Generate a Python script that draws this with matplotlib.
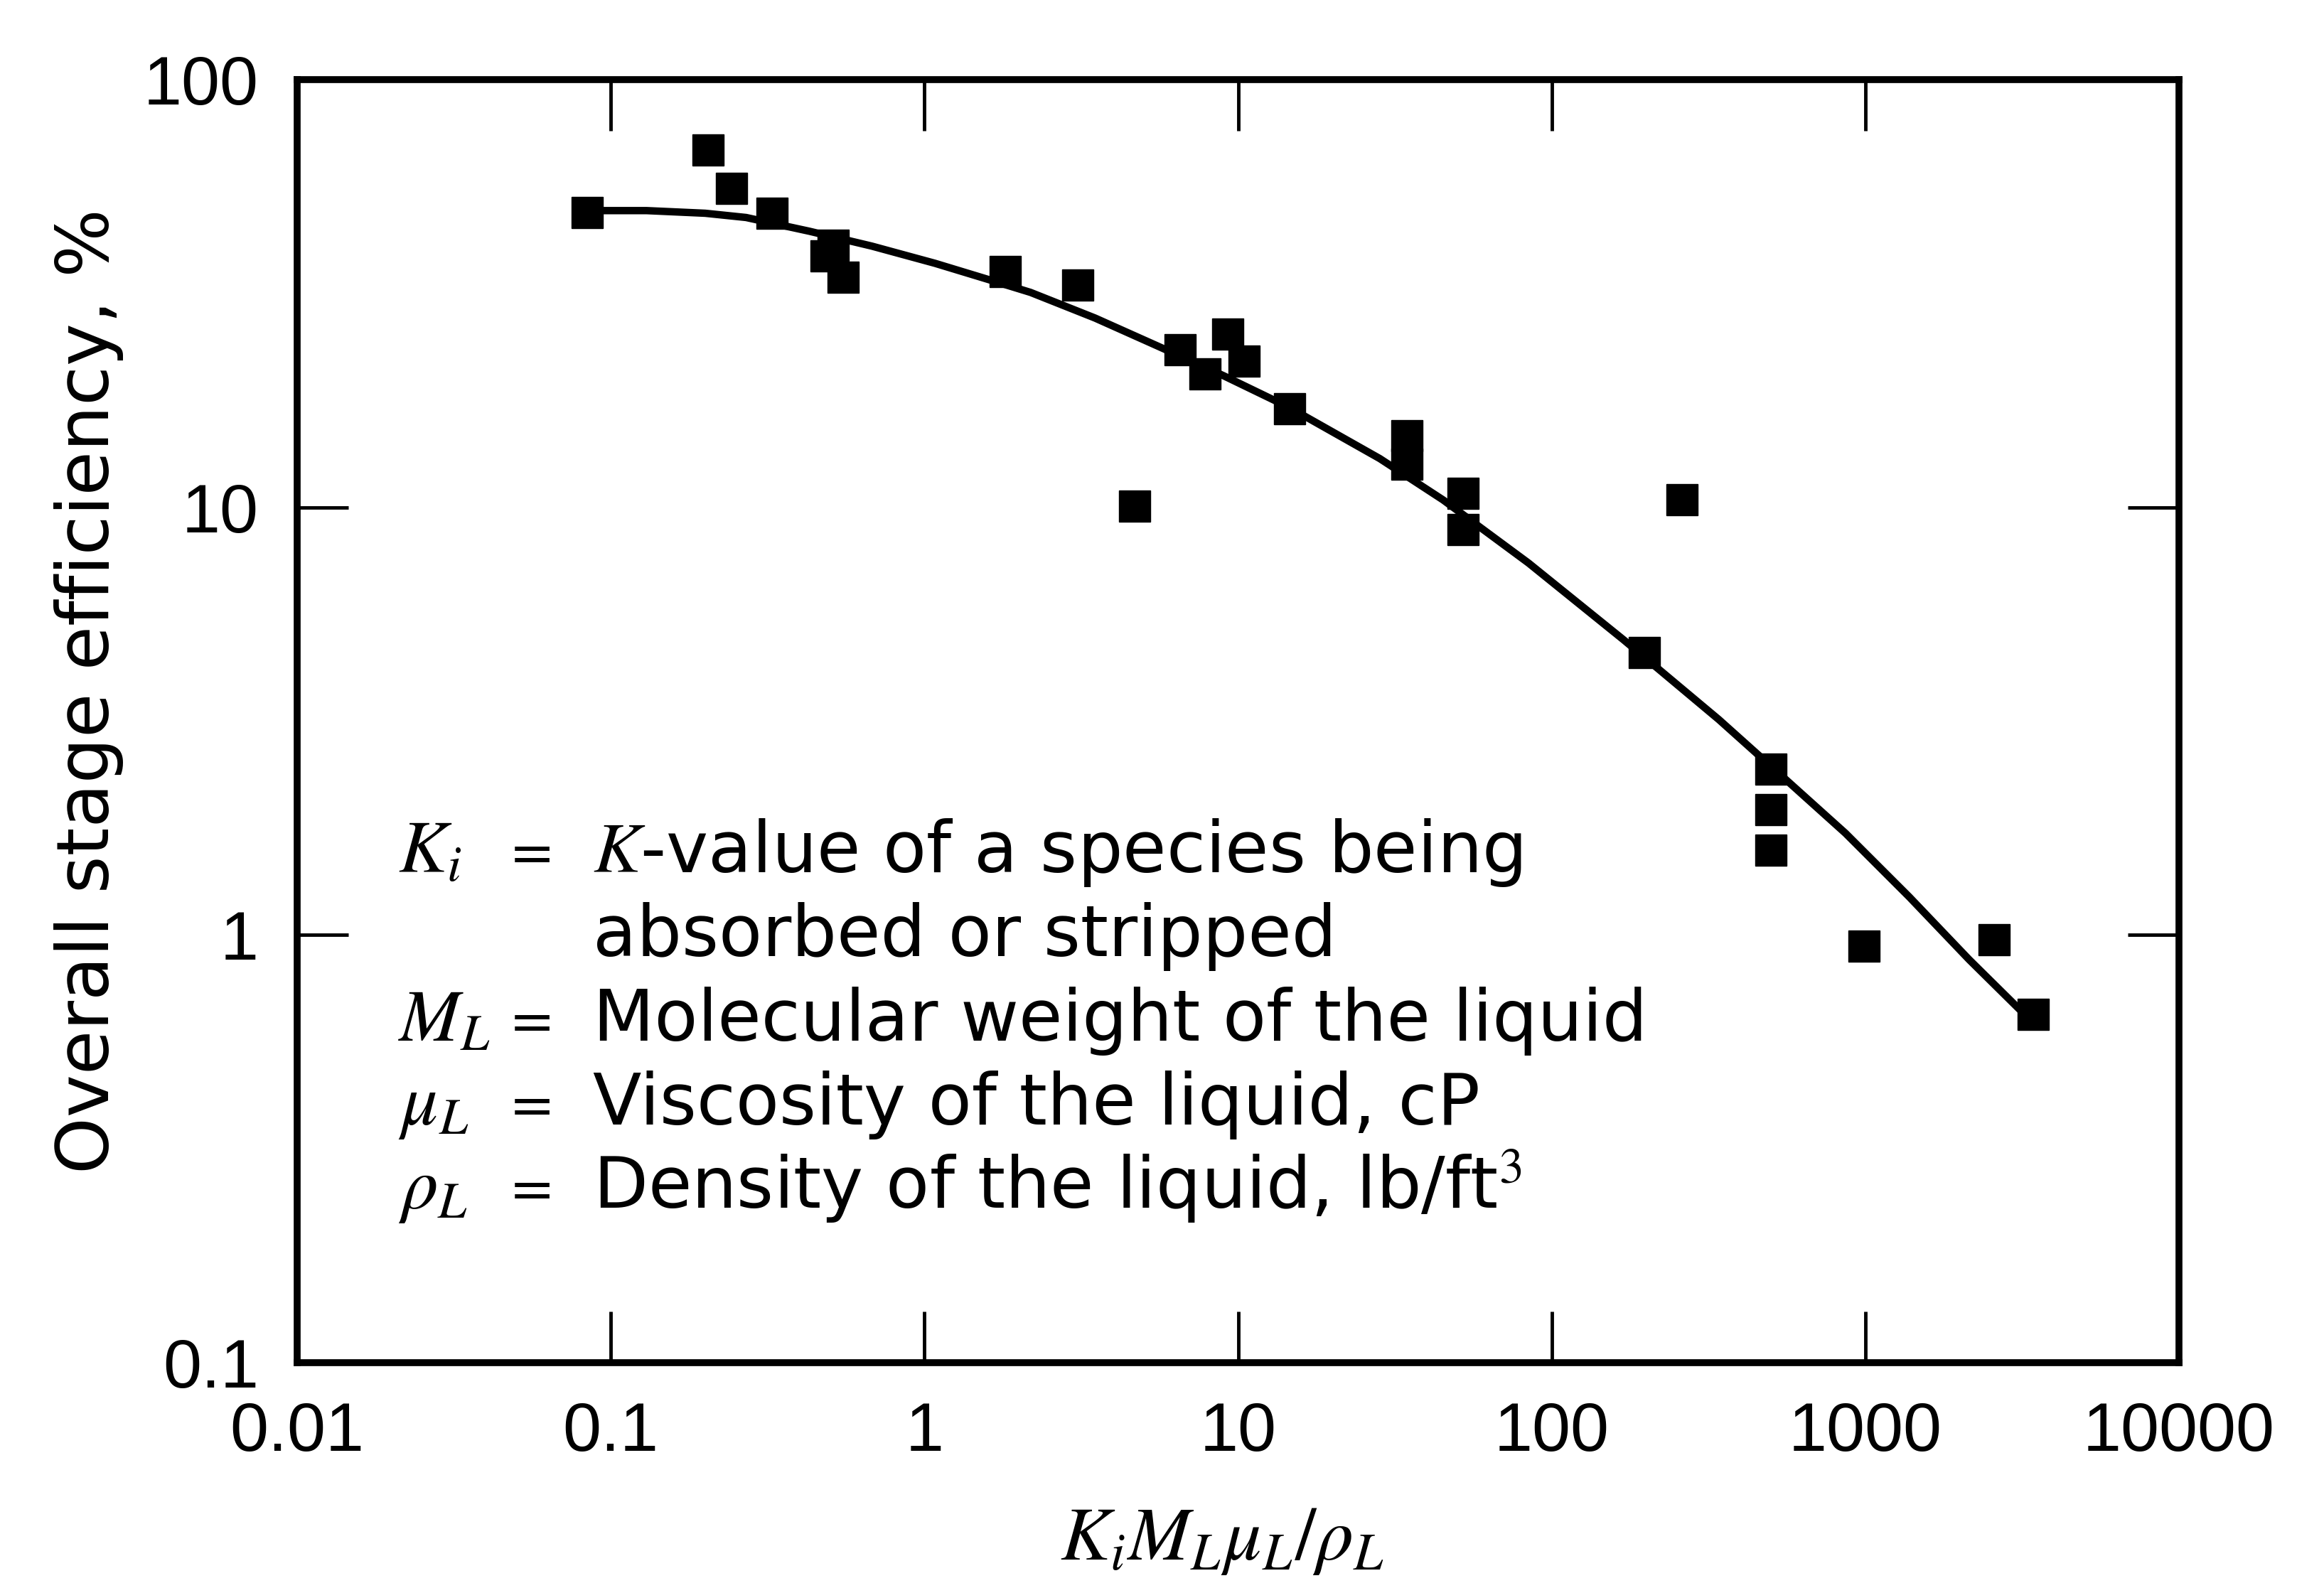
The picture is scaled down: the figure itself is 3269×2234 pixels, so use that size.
import numpy as np
import matplotlib
matplotlib.use('Agg')
import matplotlib.pyplot as plt

# measured points
x_pts = [0.084, 0.204, 0.243, 0.327, 0.486, 0.511, 0.550, 1.81, 3.08, 4.68,
         6.53, 7.84, 9.27, 10.45, 14.6, 34.5, 34.5, 52.1, 52.1, 261,
         197, 499, 499, 499, 990, 2570, 3430]
y_pts = [48.9, 68.5, 55.7, 48.7, 38.7, 41.0, 34.5, 35.6, 33.1, 10.06,
         23.4, 20.5, 25.4, 22.0, 17.0, 14.7, 12.6, 10.8, 8.87, 10.4,
         4.58, 2.44, 1.96, 1.58, 0.942, 0.975, 0.652]

# correlation curve
curve_x = [0.084, 0.13, 0.2, 0.27, 0.43, 0.68, 1.08, 1.73, 2.18, 3.5, 5.56, 9.0,
           14.6, 28.3, 45.1, 84.3, 169.5, 341, 543, 864, 1381, 2142, 3200]
curve_y = [49.4, 49.4, 48.7, 47.6, 44.2, 40.8, 37.2, 33.5, 31.8, 27.7, 23.8, 20.3,
           17.1, 13.0, 10.4, 7.41, 4.90, 3.19, 2.35, 1.73, 1.227, 0.876, 0.655]

xticks = [0.01, 0.1, 1, 10, 100, 1000, 10000]
xlabels = ['0.01', '0.1', '1', '10', '100', '1000', '10000']
yticks = [0.1, 1, 10, 100]
ylabels = ['0.1', '1', '10', '100']

symbols = [r'$K_i$', '', r'$M_L$', r'$\mu_L$', r'$\rho_L$']
descr = [r'$K$-value of a species being', 'absorbed or stripped',
         'Molecular weight of the liquid', 'Viscosity of the liquid, cP',
         r'Density of the liquid, lb/ft$^3$']

plt.rcParams.update({'font.family': 'Liberation Sans',
                     'mathtext.fontset': 'stix'})

W, H = 3269, 2234
fig = plt.figure(figsize=(W / 100, H / 100), dpi=100)
L, R, T, B = 418, 3065, 112, 1917
ax = fig.add_axes([L / W, 1 - B / H, (R - L) / W, (B - T) / H])

ax.plot(curve_x, curve_y, color='black', linewidth=7.5, solid_capstyle='butt',
        solid_joinstyle='round')
ax.plot(x_pts, y_pts, linestyle='none', marker='s', markersize=32,
        color='black')

ax.set_xscale('log')
ax.set_yscale('log')
ax.set_xlim(0.01, 10000)
ax.set_ylim(0.1, 100)
ax.set_xticks(xticks)
ax.set_xticklabels(xlabels)
ax.set_yticks(yticks)
ax.set_yticklabels(ylabels)
ax.minorticks_off()
ax.tick_params(direction='in', length=52, width=3.5, pad=39, labelsize=70,
               top=True, right=True)
for s in ax.spines.values():
    s.set_linewidth(7)

# definitions block
def to_ax(px, py):
    return (px - L) / (R - L), (B - py) / (B - T)

baselines = [1227, 1345, 1464, 1582, 1700]
for sym, txt, yb in zip(symbols, descr, baselines):
    if sym:
        ax.text(*to_ax(560, yb), sym, transform=ax.transAxes, fontsize=74,
                va='baseline', ha='left')
        ax.text(*to_ax(716, yb), '=', transform=ax.transAxes, fontsize=56,
                va='baseline', ha='left', family='DejaVu Sans')
    ax.text(*to_ax(834, yb), txt, transform=ax.transAxes, fontsize=72,
            va='baseline', ha='left', family='DejaVu Sans')

fig.text(125 / W, 1 - 972 / H, 'Overall stage efficiency, %', rotation=90,
         ha='center', va='center', fontsize=73, family='DejaVu Sans')
fig.text(1719 / W, 1 - 2168 / H, r'$K_iM_L\mu_L/\rho_L$', ha='center',
         va='center', fontsize=76)

plt.savefig('out.png', dpi=100)
plt.close()
